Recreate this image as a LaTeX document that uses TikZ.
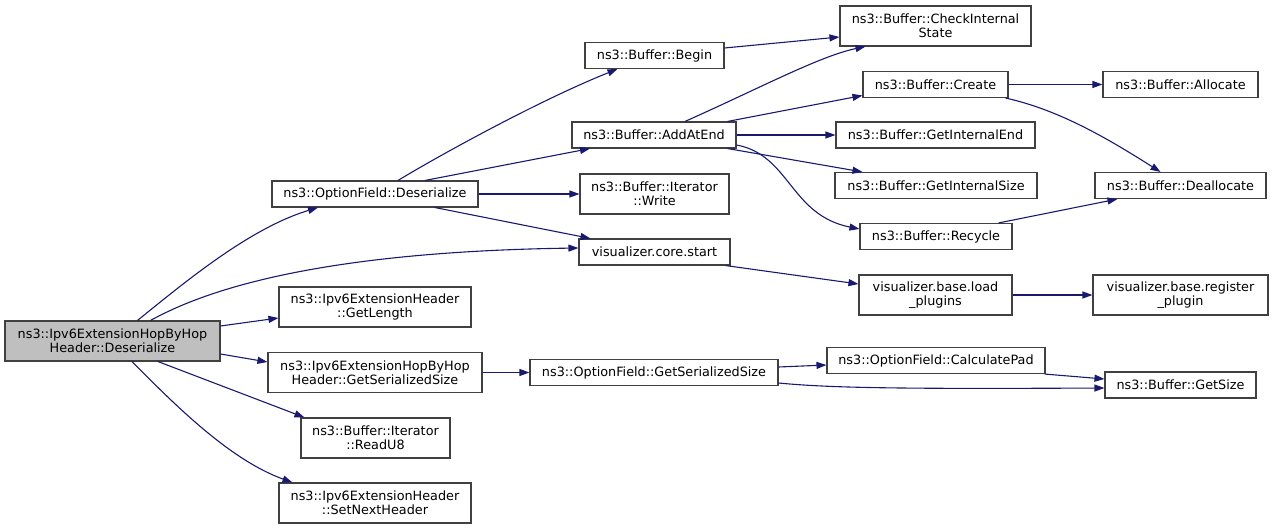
\documentclass[tikz,border=0pt]{standalone}
\usepackage{fontspec}
\setmainfont{DejaVu Sans}
\usetikzlibrary{arrows.meta}
\definecolor{edgeblue}{HTML}{191970}
\definecolor{boxborder}{HTML}{404040}
\definecolor{mainfill}{HTML}{BFBFBF}
\tikzset{
  fnbox/.style={draw=boxborder, line width=1.1pt, fill=white, inner sep=0pt, align=center,
    font=\fontsize{12.8}{14}\selectfont},
  mainbox/.style={fnbox, fill=mainfill},
  call/.style={draw=edgeblue, line width=1.1pt, -{Triangle[length=10pt,width=7pt]}},
}
\begin{document}
\begin{tikzpicture}[x=1pt,y=-1pt]
\useasboundingbox (0,0) rectangle (1273,529);
% nodes
\node[mainbox, minimum width=215pt, minimum height=40pt] (main) at (112.5,341) {ns3::Ipv6ExtensionHopByHop\\Header::Deserialize};
\node[fnbox, minimum width=206pt, minimum height=26pt] (ofdes) at (375,194) {ns3::OptionField::Deserialize};
\node[fnbox, minimum width=139pt, minimum height=26pt] (begin) at (654.5,55.5) {ns3::Buffer::Begin};
\node[fnbox, minimum width=191pt, minimum height=40pt] (check) at (935.5,26) {ns3::Buffer::CheckInternal\\State};
\node[fnbox, minimum width=164pt, minimum height=26pt] (addatend) at (654,135) {ns3::Buffer::AddAtEnd};
\node[fnbox, minimum width=145pt, minimum height=26pt] (create) at (935.5,84.5) {ns3::Buffer::Create};
\node[fnbox, minimum width=155pt, minimum height=26pt] (allocate) at (1180.5,84.5) {ns3::Buffer::Allocate};
\node[fnbox, minimum width=199pt, minimum height=26pt] (gie) at (935.5,135) {ns3::Buffer::GetInternalEnd};
\node[fnbox, minimum width=202pt, minimum height=26pt] (gis) at (936,185.5) {ns3::Buffer::GetInternalSize};
\node[fnbox, minimum width=171pt, minimum height=26pt] (dealloc) at (1180.5,185.5) {ns3::Buffer::Deallocate};
\node[fnbox, minimum width=149pt, minimum height=40pt] (write) at (654.5,194) {ns3::Buffer::Iterator\\::Write};
\node[fnbox, minimum width=152pt, minimum height=26pt] (recycle) at (936,236.5) {ns3::Buffer::Recycle};
\node[fnbox, minimum width=151pt, minimum height=26pt] (corestart) at (654.5,252) {visualizer.core.start};
\node[fnbox, minimum width=153pt, minimum height=40pt] (load) at (935.5,295) {visualizer.base.load\\\_plugins};
\node[fnbox, minimum width=175pt, minimum height=40pt] (register) at (1180.5,295) {visualizer.base.register\\\_plugin};
\node[fnbox, minimum width=192pt, minimum height=40pt] (getlength) at (375,307) {ns3::Ipv6ExtensionHeader\\::GetLength};
\node[fnbox, minimum width=214pt, minimum height=40pt] (hbhgss) at (375,372.5) {ns3::Ipv6ExtensionHopByHop\\Header::GetSerializedSize};
\node[fnbox, minimum width=248pt, minimum height=26pt] (ofgss) at (654,372.5) {ns3::OptionField::GetSerializedSize};
\node[fnbox, minimum width=218pt, minimum height=26pt] (calcpad) at (936,360.5) {ns3::OptionField::CalculatePad};
\node[fnbox, minimum width=151pt, minimum height=26pt] (getsize) at (1180.5,385) {ns3::Buffer::GetSize};
\node[fnbox, minimum width=149pt, minimum height=40pt] (readu8) at (375.5,438) {ns3::Buffer::Iterator\\::ReadU8};
\node[fnbox, minimum width=192pt, minimum height=40pt] (setnext) at (375,503) {ns3::Ipv6ExtensionHeader\\::SetNextHeader};
% edges
\draw[call] ([xshift=25pt]main.north) .. controls (185,282) and (250,228) .. ([xshift=-57pt]ofdes.south);
\draw[call] ([xshift=38pt]main.north) .. controls (195,296) and (300,252) .. ([yshift=4pt]corestart.west);
\draw[call] ([yshift=15pt]main.east) -- ([yshift=-11pt]getlength.north west |- getlength.west);
\draw[call] ([yshift=-13pt]main.east) -- ([yshift=10.5pt]hbhgss.west);
\draw[call] ([xshift=45.5pt]main.south) -- ([xshift=4pt]readu8.north west);
\draw[call] ([xshift=19.5pt]main.south) .. controls (175,405) and (230,460) .. ([xshift=14pt]setnext.north west);
\draw[call] ([xshift=23pt]ofdes.north) .. controls (440,155) and (540,100) .. ([xshift=-37pt]begin.south);
\draw[call] ([xshift=50pt]ofdes.north) -- ([xshift=-64pt]addatend.south);
\draw[call] (ofdes.east) -- (write.west);
\draw[call] ([xshift=60pt]ofdes.south) -- ([xshift=12pt]corestart.north west);
\draw[call] ([yshift=7.5pt]begin.east) -- ([yshift=-11pt]check.west);
\draw[call] ([xshift=31pt]addatend.north) .. controls (760,88) and (820,56) .. ([xshift=-70pt]check.south);
\draw[call] ([xshift=-9pt]addatend.north east) -- ([yshift=-11pt]create.west);
\draw[call] (addatend.east) -- (gie.west);
\draw[call] ([xshift=-9pt]addatend.south east) -- ([xshift=28pt]gis.north west);
\draw[call] ([yshift=-10pt]addatend.east) .. controls (790,155) and (790,215) .. ([yshift=7.5pt]recycle.west);
\draw[call] (create.east) -- (allocate.west);
\draw[call] ([xshift=-3pt]create.south east) .. controls (1060,110) and (1110,140) .. ([xshift=-20pt]dealloc.north);
\draw[call] ([xshift=-14pt]recycle.north east) -- ([xshift=23pt]dealloc.south west);
\draw[call] ([xshift=-5pt]corestart.south east) -- ([yshift=11pt]load.west);
\draw[call] (load.east) -- (register.west);
\draw[call] (hbhgss.east) -- (ofgss.west);
\draw[call] ([yshift=5.5pt]ofgss.east) -- ([yshift=-4.5pt]calcpad.west);
\draw[call] ([yshift=-10.5pt]ofgss.east) .. controls (830,388) and (900,389) .. ([yshift=-3pt]getsize.west);
\draw[call] ([xshift=-1pt]calcpad.south east) -- ([yshift=6pt]getsize.west);
\end{tikzpicture}
\end{document}
